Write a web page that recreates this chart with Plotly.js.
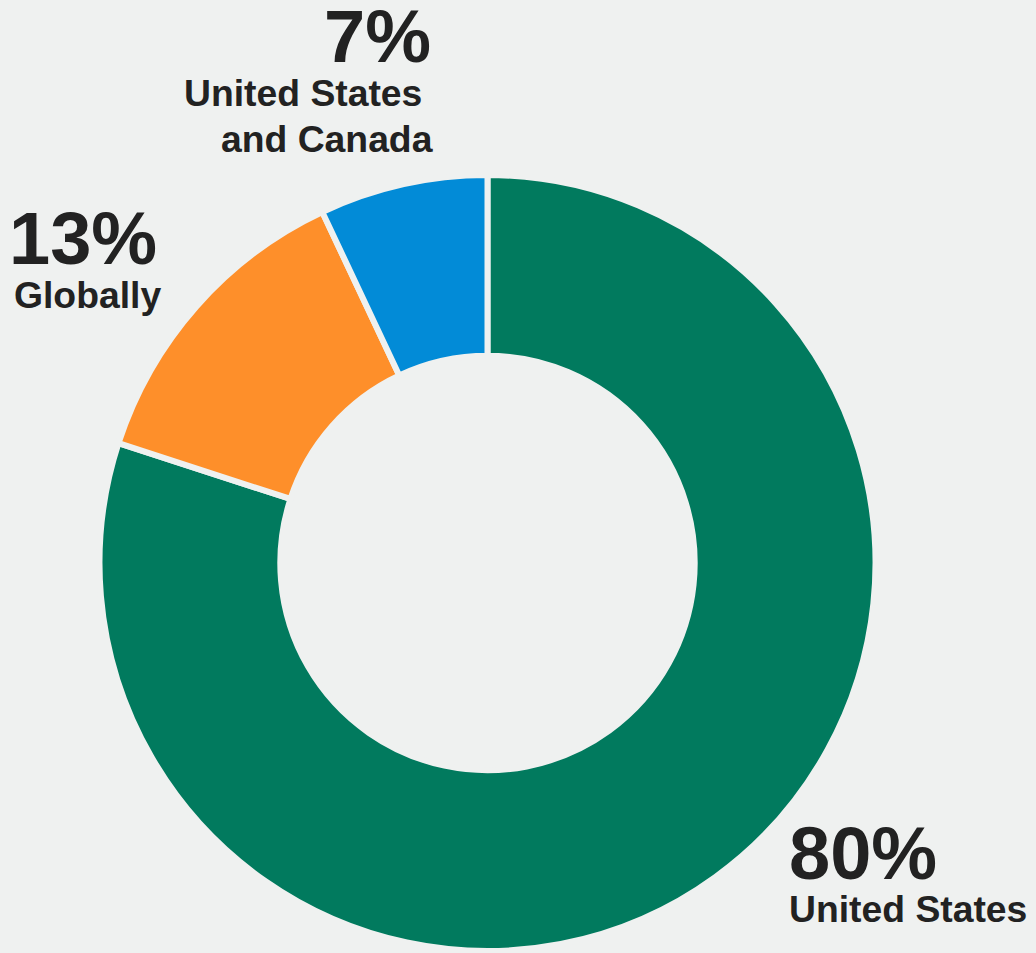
<!DOCTYPE html>
<html>
<head>
<meta charset="utf-8">
<script src="https://cdn.plot.ly/plotly-3.0.1.min.js"></script>
<style>
  html, body { margin: 0; padding: 0; background: #eff1f0; }
  #chart { width: 1036px; height: 953px; }
</style>
</head>
<body>
<div id="chart"></div>
<script>
// Data
const categories = ["United States", "Globally", "United States and Canada"];
const shares = [80, 13, 7];
const percentLabels = ["80%", "13%", "7%"];
const sliceColors = ["#017a5e", "#fe8f2a", "#028bd7"];

const W = 1036, H = 953;
const BG = "#eff1f0";
const TXT = "#222222";
const FONT = "Liberation Sans, Arial, Helvetica, sans-serif";

function px(x) { return x / W; }
function py(y) { return 1 - y / H; }

const trace = {
  type: "pie",
  labels: categories,
  values: shares,
  sort: false,
  direction: "clockwise",
  rotation: 0,
  hole: 0.534,
  textinfo: "none",
  hoverinfo: "label+percent",
  showlegend: false,
  marker: { colors: sliceColors, line: { color: BG, width: 6 } },
  domain: { x: [px(99.5), px(875.5)], y: [py(951), py(175)] }
};

function ann(text, x, y, size, xanchor) {
  return {
    text: "<b>" + text + "</b>",
    xref: "paper", yref: "paper",
    x: px(x), y: py(y),
    xanchor: xanchor || "left", yanchor: "middle",
    showarrow: false,
    borderpad: 0,
    font: { family: FONT, size: size, color: TXT }
  };
}

const PCT = 74, LAB = 37.3;
const annotations = [
  ann(percentLabels[2], 323, 36, PCT),
  ann("United States", 183, 93, LAB),
  ann("and Canada", 220, 139, LAB),
  ann(percentLabels[1], 8, 238, PCT),
  ann(categories[1], 13, 295, LAB),
  ann(percentLabels[0], 788, 853, PCT),
  ann(categories[0], 788, 909, LAB)
];

const layout = {
  width: W, height: H,
  margin: { l: 0, r: 0, t: 0, b: 0 },
  paper_bgcolor: BG,
  plot_bgcolor: BG,
  annotations: annotations
};

Plotly.newPlot("chart", [trace], layout, { displayModeBar: false, staticPlot: true });
</script>
</body>
</html>
